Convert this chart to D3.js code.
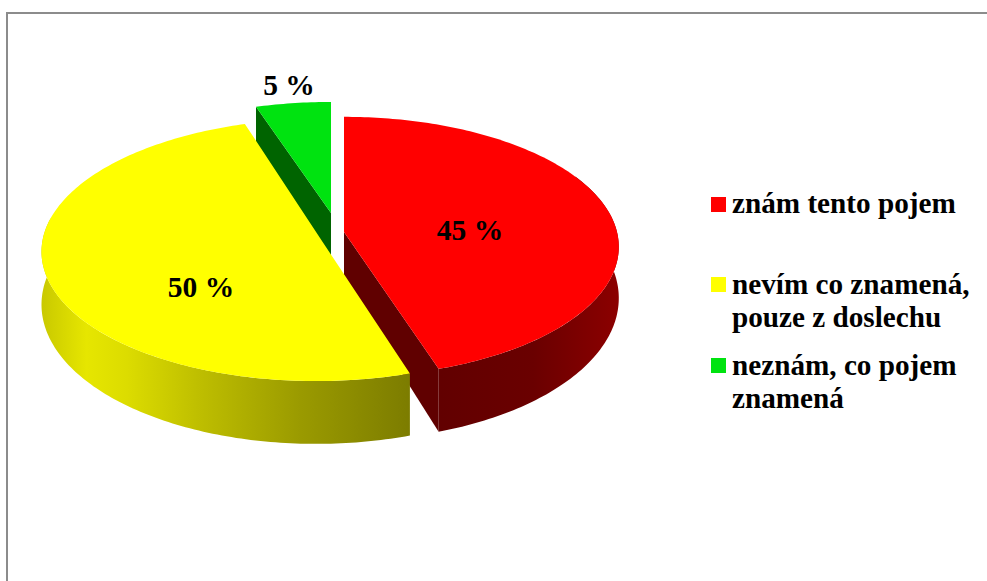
<!DOCTYPE html>
<html><head><meta charset="utf-8">
<script src="https://cdn.jsdelivr.net/npm/d3@7/dist/d3.min.js"></script>
<style>html,body{margin:0;padding:0;background:#fff}svg{display:block}</style>
</head><body><div id="c"></div>
<script>
const categories = [["znám tento pojem"], ["nevím co znamená,", "pouze z doslechu"], ["neznám, co pojem", "znamená"]];
const values = [45, 50, 5];
const labels = ["45 %", "50 %", "5 %"];
const colors = ["#ff0000", "#ffff00", "#00e310"];

// layout only
const W = 987, H = 581;
const apex = [[344, 232], [320, 238], [331, 213]];      // exploded slice centres
const radius = [273, 277, 269];
const squash = [0.47, 0.47, 0.46];
const persp = [0.114, 0.09, 0.114];
const shear = [0, 3.9, 0];
const depth = [50, 52, 50];
const labelPos = [[470, 240], [201, 297], [289, 95]];
const legendY = [[213], [294, 327], [375, 408]];
const legendBox = [197, 277, 358];

const svg = d3.select("#c").append("svg").attr("width", W).attr("height", H);
const defs = svg.append("defs");

function grad(id, stops) {
  const g = defs.append("linearGradient").attr("id", id).attr("gradientUnits", "userSpaceOnUse")
    .attr("x1", 40).attr("x2", 620).attr("y1", 0).attr("y2", 0);
  stops.forEach(s => g.append("stop").attr("offset", s[0]).attr("stop-color", s[1]));
}
grad("gy", [[0, "#c8c800"], [0.08, "#e6e600"], [0.15, "#dcdc00"], [0.28, "#bdbd00"], [0.45, "#9a9a00"], [0.64, "#7c7c00"], [1, "#7c7c00"]]);
grad("gr", [[0, "#600000"], [0.65, "#600000"], [0.85, "#6a0000"], [1, "#8c0000"]]);

svg.append("path").attr("fill", "none").attr("stroke", "#8c8c8c").attr("stroke-width", 2)
  .attr("d", d3.line()([[7, H], [7, 13], [W, 13]]));

const pie = d3.pie().sort(null).value(d => d).startAngle(0).endAngle(2 * Math.PI);
// green closes the circle at 12 o'clock; red starts there
const arcs = pie(values);

function project(i, a, r, down) {
  const X = Math.sin(a) * r, Z = Math.cos(a) * r;
  const s = 1 / (1 + persp[i] * Z);
  const R = radius[i];
  return [apex[i][0] + R * X * s + shear[i] * Z,
          apex[i][1] - R * squash[i] * Z * s + (down ? depth[i] * s * s : 0)];
}
function rim(i, a0, a1, down) {
  const n = Math.max(4, Math.ceil(Math.abs(a1 - a0) * 60));
  return d3.range(n + 1).map(k => project(i, a0 + (a1 - a0) * k / n, 1, down));
}
const line = d3.line();
const closed = pts => line(pts) + "Z";

function topFace(i) {
  const d = arcs[i];
  return closed([project(i, 0, 0, false), ...rim(i, d.startAngle, d.endAngle, false)]);
}
function outerWall(i, a0, a1) {
  return closed([...rim(i, a0, a1, false), ...rim(i, a1, a0, true)]);
}
function cutWall(i, a) {
  return closed([project(i, 0, 0, false), project(i, a, 1, false), project(i, a, 1, true), project(i, 0, 0, true)]);
}

const g = svg.append("g");
// green: only the left cut face is visible below its top
g.append("path").attr("d", cutWall(2, arcs[2].startAngle)).attr("fill", "#006400");
g.append("path").attr("d", topFace(2)).attr("fill", colors[2]);
// red
g.append("path").attr("d", cutWall(0, arcs[0].endAngle)).attr("fill", "#600000");
g.append("path").attr("d", outerWall(0, Math.PI * 0.35, arcs[0].endAngle)).attr("fill", "url(#gr)");
g.append("path").attr("d", topFace(0)).attr("fill", colors[0]);
// yellow
g.append("path").attr("d", outerWall(1, arcs[1].startAngle, Math.PI * 1.55)).attr("fill", "url(#gy)");
g.append("path").attr("d", topFace(1)).attr("fill", colors[1]);

const serif = "'Liberation Serif','Times New Roman',serif";
svg.append("g").selectAll("text").data(labels).join("text")
  .attr("x", (d, i) => labelPos[i][0]).attr("y", (d, i) => labelPos[i][1])
  .attr("text-anchor", "middle").attr("font-family", serif).attr("font-weight", "bold")
  .attr("font-size", 29.5).attr("fill", "#000").text(d => d);

const leg = svg.append("g");
categories.forEach((lines, i) => {
  leg.append("rect").attr("x", 711).attr("y", legendBox[i]).attr("width", 15).attr("height", 15).attr("fill", colors[i]);
  lines.forEach((t, j) => leg.append("text").attr("x", 732).attr("y", legendY[i][j])
    .attr("font-family", serif).attr("font-weight", "bold").attr("font-size", 29.2).attr("fill", "#000").text(t));
});
</script></body></html>
